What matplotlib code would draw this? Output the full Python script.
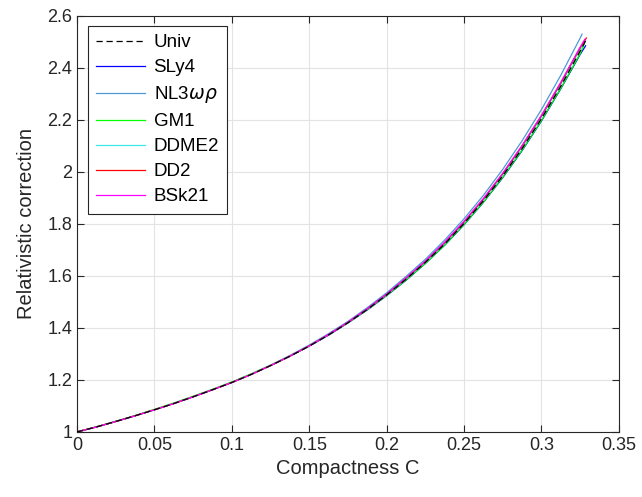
import matplotlib.pyplot as plt
import numpy as np

plt.rcParams['font.family'] = ['Liberation Sans', 'DejaVu Sans']

# Compactness grid (shared), step 0.0125 up to 0.325
C_grid = [0, 0.0125, 0.025, 0.0375, 0.05, 0.0625, 0.075, 0.0875, 0.1, 0.1125,
          0.125, 0.1375, 0.15, 0.1625, 0.175, 0.1875, 0.2, 0.2125, 0.225, 0.2375,
          0.25, 0.2625, 0.275, 0.2875, 0.3, 0.3125, 0.325]

univ = [1.000, 1.019, 1.040, 1.062, 1.085, 1.109, 1.135, 1.162, 1.190, 1.221,
        1.255, 1.291, 1.330, 1.373, 1.420, 1.471, 1.527, 1.587, 1.652, 1.723,
        1.802, 1.889, 1.985, 2.090, 2.205, 2.330, 2.465]
sly4 = [1.000, 1.019, 1.040, 1.062, 1.085, 1.109, 1.135, 1.162, 1.190, 1.221,
        1.255, 1.291, 1.330, 1.372, 1.419, 1.469, 1.524, 1.583, 1.648, 1.718,
        1.797, 1.883, 1.978, 2.082, 2.196, 2.320, 2.452]
nl3wr = [1.000, 1.019, 1.040, 1.062, 1.085, 1.110, 1.136, 1.163, 1.191, 1.223,
         1.257, 1.294, 1.334, 1.378, 1.425, 1.478, 1.535, 1.598, 1.664, 1.738,
         1.820, 1.910, 2.010, 2.120, 2.240, 2.372, 2.515]
gm1 = [1.000, 1.020, 1.041, 1.063, 1.087, 1.111, 1.137, 1.164, 1.192, 1.223,
       1.256, 1.292, 1.331, 1.374, 1.420, 1.470, 1.525, 1.584, 1.648, 1.719,
       1.798, 1.884, 1.980, 2.084, 2.198, 2.322, 2.455]
ddme2 = [1.000, 1.019, 1.040, 1.062, 1.085, 1.109, 1.135, 1.162, 1.190, 1.221,
         1.255, 1.291, 1.331, 1.374, 1.421, 1.472, 1.528, 1.589, 1.654, 1.726,
         1.806, 1.893, 1.990, 2.096, 2.212, 2.338, 2.473]
dd2 = [1.000, 1.019, 1.040, 1.062, 1.085, 1.109, 1.135, 1.162, 1.190, 1.221,
       1.255, 1.291, 1.331, 1.374, 1.421, 1.473, 1.529, 1.591, 1.656, 1.728,
       1.808, 1.896, 1.993, 2.100, 2.216, 2.342, 2.478]
bsk21 = [1.000, 1.019, 1.040, 1.062, 1.085, 1.109, 1.135, 1.162, 1.190, 1.221,
         1.255, 1.292, 1.331, 1.375, 1.422, 1.474, 1.530, 1.592, 1.657, 1.730,
         1.810, 1.898, 1.995, 2.102, 2.218, 2.345, 2.480]

# end points (maximum compactness) for each curve
end_C = {'Univ': 0.3295, 'SLy4': 0.3285, 'NL3': 0.3262, 'GM1': 0.3275,
         'DDME2': 0.3285, 'DD2': 0.329, 'BSk21': 0.328}
end_R = {'Univ': 2.515, 'SLy4': 2.485, 'NL3': 2.53, 'GM1': 2.49,
         'DDME2': 2.505, 'DD2': 2.515, 'BSk21': 2.51}

series = [
    ('Univ', 'Univ', univ, 'k', '--'),
    ('SLy4', 'SLy4', sly4, '#0000ff', '-'),
    ('NL3', r'NL3$\omega\rho$', nl3wr, '#4d9ad6', '-'),
    ('GM1', 'GM1', gm1, '#00ff00', '-'),
    ('DDME2', 'DDME2', ddme2, '#3fe8e8', '-'),
    ('DD2', 'DD2', dd2, '#ff0000', '-'),
    ('BSk21', 'BSk21', bsk21, '#ff00ff', '-'),
]

fig = plt.figure(figsize=(6.42, 4.97), dpi=100)
ax = fig.add_axes([0.12, 0.131, 0.844, 0.837])

# solid curves first, Univ dashed on top
handles = {}
for i in [1, 2, 3, 4, 5, 6, 0]:
    key, label, vals, color, ls = series[i]
    x = [c for c in C_grid if c < end_C[key]] + [end_C[key]]
    y = vals[:len(x) - 1] + [end_R[key]]
    if ls == '--':
        h, = ax.plot(x, y, color=color, linewidth=0.9, dashes=(5, 3), label=label, zorder=3)
    else:
        h, = ax.plot(x, y, color=color, linewidth=0.9, label=label, zorder=2)
    handles[i] = h

ax.set_xlim(0, 0.35)
ax.set_ylim(1, 2.6)
ax.set_xticks(np.arange(0, 0.351, 0.05))
ax.set_xticklabels(['0', '0.05', '0.1', '0.15', '0.2', '0.25', '0.3', '0.35'])
ax.set_yticks(np.arange(1, 2.61, 0.2))
ax.set_yticklabels(['1', '1.2', '1.4', '1.6', '1.8', '2', '2.2', '2.4', '2.6'])
ax.grid(True, color='#e3e3e3', linewidth=0.8)
ax.set_axisbelow(True)
ax.tick_params(direction='in', top=True, right=True, labelsize=13, length=5,
               color='#262626', labelcolor='#262626')
for sp in ax.spines.values():
    sp.set_color('#262626')
    sp.set_linewidth(0.8)
ax.set_xlabel('Compactness C', fontsize=14.5, color='#262626', labelpad=4)
ax.set_ylabel('Relativistic correction', fontsize=14.5, color='#262626', labelpad=8)

leg = ax.legend([handles[i] for i in range(7)], [s[1] for s in series],
                loc='upper left', bbox_to_anchor=(0.02, 0.976), borderaxespad=0,
                fontsize=13.5, fancybox=False, edgecolor='#262626', framealpha=1,
                handlelength=2.6, borderpad=0.45, labelspacing=0.42, handletextpad=0.45)
leg.get_frame().set_linewidth(0.8)

fig.savefig('out.png', dpi=100)
